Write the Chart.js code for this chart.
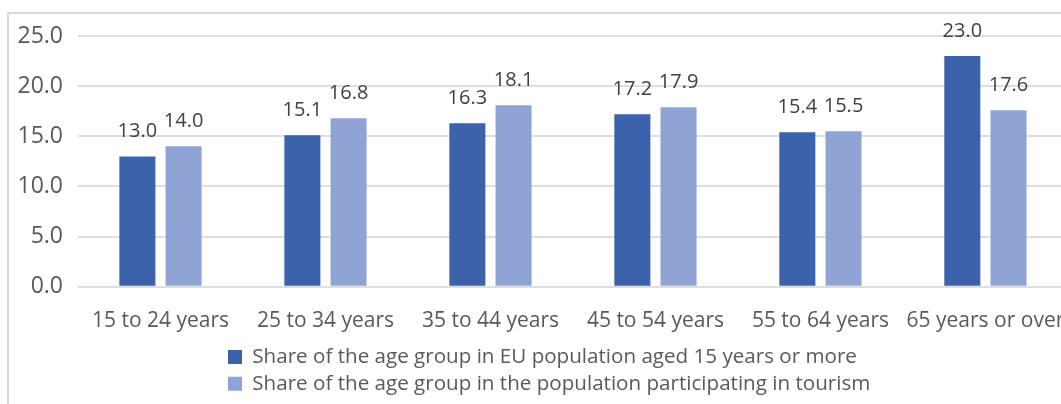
<!DOCTYPE html>
<html>
<head>
<meta charset="utf-8">
<script src="https://cdn.jsdelivr.net/npm/chart.js@4/dist/chart.umd.min.js"></script>
<style>
  html, body { margin: 0; padding: 0; background: #fff; width: 1061px; height: 404px; overflow: hidden; }
  #wrap { position: absolute; left: 0; top: 0; width: 1087px; height: 404px; }
  #frame { position: absolute; left: 7px; top: 12px; width: 1200px; height: 500px;
           border-top: 2px solid #d9d9d9; border-left: 2px solid #d9d9d9; pointer-events: none; }
</style>
</head>
<body>
<div id="wrap"><canvas id="c" width="1087" height="404"></canvas></div>
<div id="frame"></div>
<script>
const categories = ["15 to 24 years", "25 to 34 years", "35 to 44 years", "45 to 54 years", "55 to 64 years", "65 years or over"];
const seriesNames = [
  "Share of the age group in EU population aged 15 years or more",
  "Share of the age group in the population participating in tourism"
];
const euPopulation = [13.0, 15.1, 16.3, 17.2, 15.4, 23.0];
const tourismPopulation = [14.0, 16.8, 18.1, 17.9, 15.5, 17.6];
const yTicks = [0, 5, 10, 15, 20, 25];

const dataLabels = {
  id: 'dataLabels',
  afterDatasetsDraw(chart) {
    const ctx = chart.ctx;
    ctx.save();
    ctx.font = '20px "Open Sans"';
    ctx.fillStyle = '#404040';
    ctx.textAlign = 'center';
    ctx.textBaseline = 'middle';
    chart.data.datasets.forEach((ds, i) => {
      const meta = chart.getDatasetMeta(i);
      meta.data.forEach((bar, j) => {
        ctx.fillText(ds.data[j].toFixed(1), bar.x, bar.y - 25);
      });
    });
    ctx.restore();
  }
};

const legendShift = {
  id: 'legendShift',
  afterLayout(chart) {
    const lg = chart.legend;
    if (lg) {
      const w = lg.right - lg.left;
      lg.left = 222;
      lg.right = 222 + w;
    }
  }
};

new Chart(document.getElementById('c'), {
  type: 'bar',
  data: {
    labels: categories,
    datasets: [
      { label: seriesNames[0], data: euPopulation, backgroundColor: '#3b62ab', borderWidth: 0,
        categoryPercentage: 0.56, barPercentage: 0.78 },
      { label: seriesNames[1], data: tourismPopulation, backgroundColor: '#8fa3d4', borderWidth: 0,
        categoryPercentage: 0.56, barPercentage: 0.78 }
    ]
  },
  options: {
    responsive: false,
    animation: false,
    layout: { padding: { left: 0, right: 9, top: 36, bottom: 0 } },
    plugins: {
      tooltip: { enabled: false },
      legend: {
        position: 'bottom',
        align: 'start',
        labels: {
          font: { family: 'Open Sans', size: 20.6 },
          color: '#595959',
          boxWidth: 14,
          boxHeight: 14,
          padding: 6
        }
      }
    },
    scales: {
      x: {
        grid: { display: false, drawTicks: false },
        border: { display: false },
        afterFit(scale) { scale.height = 54; },
        ticks: { font: { family: 'Open Sans', size: 21 }, color: '#595959', padding: 22, maxRotation: 0, autoSkip: false }
      },
      y: {
        min: 0, max: 25,
        afterBuildTicks(scale) { scale.ticks = yTicks.map(v => ({ value: v })); },
        afterFit(scale) { scale.width = 78; },
        grid: { color: '#dedede', lineWidth: 2, drawTicks: false },
        border: { display: false },
        ticks: {
          font: { family: 'Open Sans', size: 23 }, color: '#595959', padding: 15,
          callback: v => Number(v).toFixed(1)
        }
      }
    }
  },
  plugins: [dataLabels, legendShift]
});
</script>
</body>
</html>
